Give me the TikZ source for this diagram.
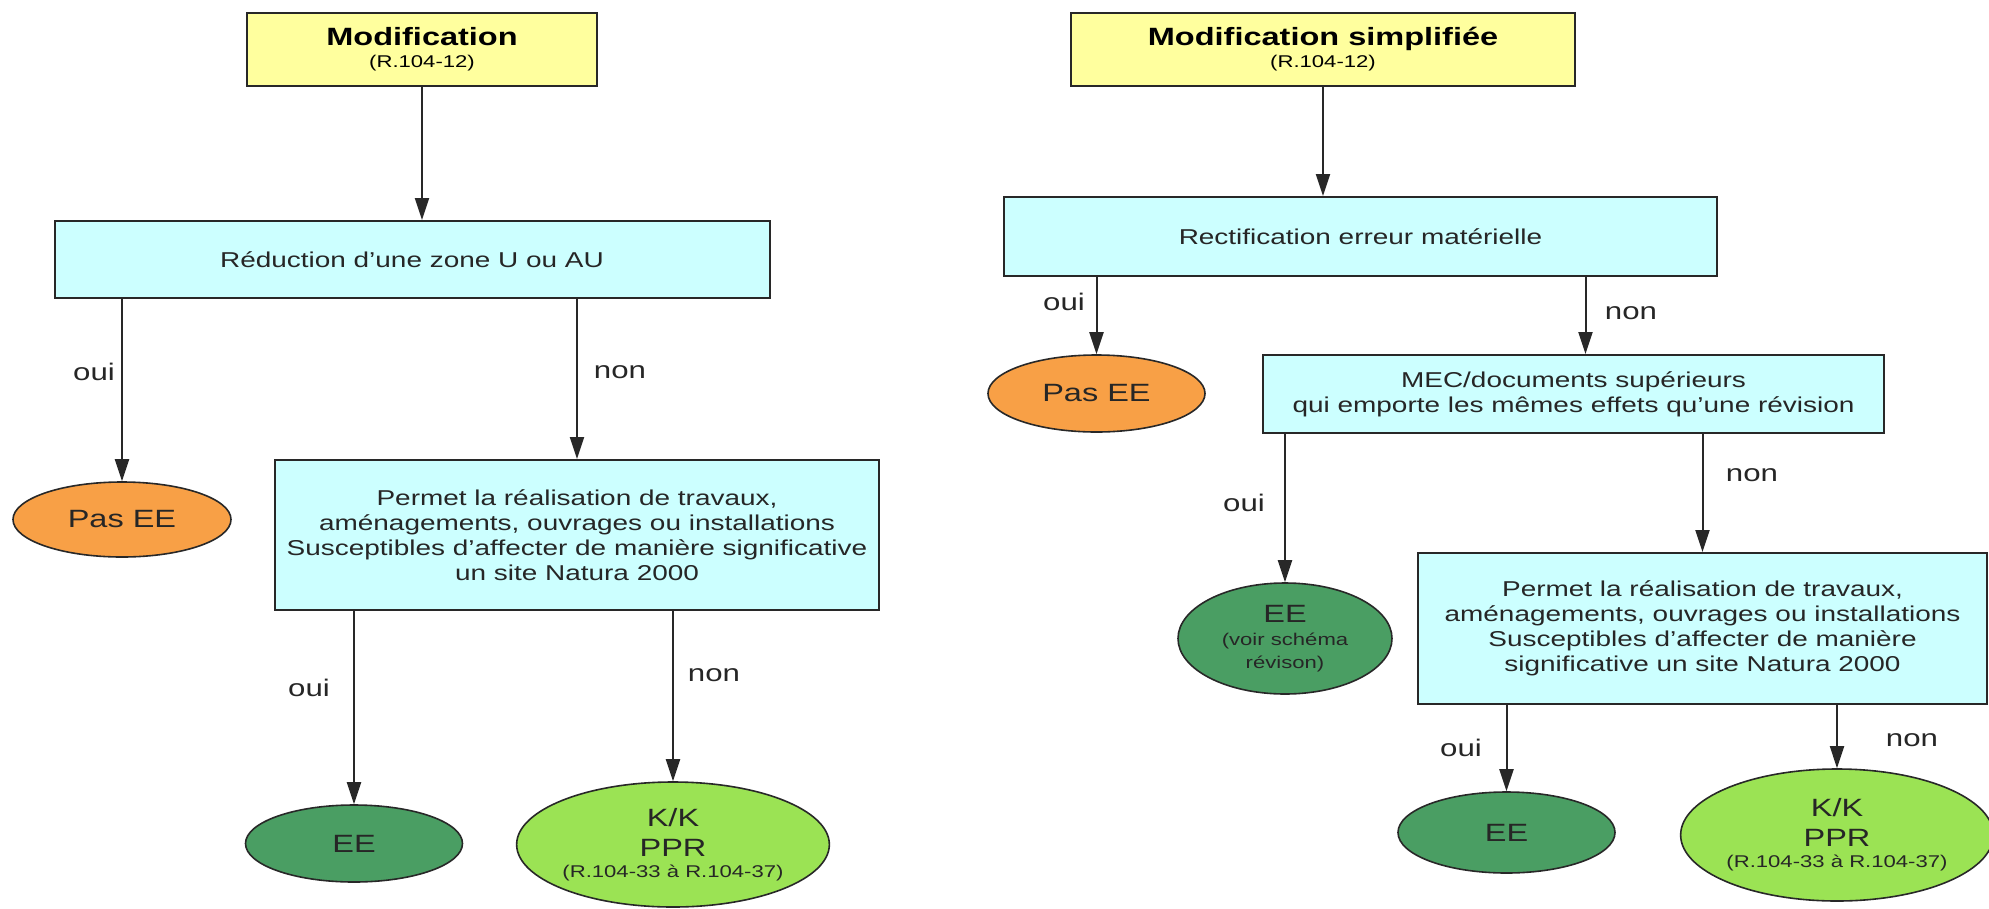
\documentclass[tikz,border=0pt]{standalone}
\usepackage{fontspec}
\setmainfont{Liberation Sans}[FakeStretch=1.3]
\usepackage{xcolor}
\usetikzlibrary{arrows.meta, shapes.geometric}

\definecolor{linegray}{RGB}{40,40,40}
\definecolor{titleyellow}{RGB}{255,255,158}
\definecolor{testcyan}{RGB}{204,255,255}
\definecolor{pasorange}{RGB}{248,160,70}
\definecolor{eegreen}{RGB}{74,158,99}
\definecolor{kkgreen}{RGB}{155,227,84}

\newcommand{\bigfont}{\fontsize{25}{30}\selectfont}
\newcommand{\smallfont}{\fontsize{17}{22}\selectfont}
\newcommand{\boxfont}{\fontsize{21.5}{25}\selectfont}

\tikzset{
  titlebox/.style={draw=linegray, line width=2pt, fill=titleyellow, align=center,
    inner sep=0pt, minimum height=73pt, font=\fontsize{25}{22}\selectfont},
  testbox/.style={draw=linegray, line width=2pt, fill=testcyan, align=center,
    inner sep=0pt, text=black!85, font=\boxfont},
  outcome/.style={ellipse, draw=linegray, line width=1.6pt, align=center,
    inner sep=0pt, text=black!85, font=\bigfont},
  answer/.style={font=\fontsize{24}{24}\selectfont, text=black!85},
  arr/.style={draw=linegray, line width=2pt, -{Triangle[length=22pt,width=14pt]}}
}

\begin{document}
\begin{tikzpicture}[x=1pt, y=-1pt]
  \useasboundingbox (0,0) rectangle (1989,908);
  \fill[white] (0,0) rectangle (1989,908);

  % Modification (left)
  \node[titlebox, minimum width=350pt] (mod) at (422,49) {\textbf{Modification}\\{\smallfont (R.104-12)}};
  \node[testbox, minimum width=715pt, minimum height=77pt] (zone) at (412,259.5) {Réduction d’une zone U ou AU};
  \node[outcome, fill=pasorange, minimum width=218pt, minimum height=75pt] (pasL) at (122,519.5) {Pas EE};
  \node[testbox, minimum width=604pt, minimum height=150pt] (travL) at (577,535)
    {Permet la réalisation de travaux,\\aménagements, ouvrages ou installations\\Susceptibles d’affecter de manière significative\\un site Natura 2000};
  \node[outcome, fill=eegreen, minimum width=217pt, minimum height=77pt] (eeL) at (354,843.5) {EE};
  \node[outcome, fill=kkgreen, minimum width=308pt, minimum height=125pt] (kkL) at (673,844.5)
    {K/K\\PPR\\[-9pt]{\smallfont (R.104-33 à R.104-37)}};

  \draw[arr] (mod) -- (zone.north -| mod);
  \draw[arr] (zone.south -| pasL) -- (pasL);
  \draw[arr] (zone.south -| travL) -- (travL);
  \draw[arr] (travL.south -| eeL) -- (eeL);
  \draw[arr] (travL.south -| kkL) -- (kkL);

  \node[answer] (ouiA) at (94,372) {oui};
  \node[answer] (nonA) at (620,372) {non};
  \node[answer] (ouiB) at (309,688) {oui};
  \node[answer] (nonB) at (714,675) {non};

  % Modification simplifiee (right)
  \node[titlebox, minimum width=504pt] (modS) at (1323,49) {\textbf{Modification simplifiée}\\{\smallfont (R.104-12)}};
  \node[testbox, minimum width=713pt, minimum height=79pt] (erreur) at (1360.5,236.5) {Rectification erreur matérielle};
  \node[outcome, fill=pasorange, minimum width=217pt, minimum height=77pt] (pasR) at (1096.5,393.5) {Pas EE};
  \node[testbox, minimum width=621pt, minimum height=78pt] (mec) at (1573.5,394)
    {MEC/documents supérieurs\\qui emporte les mêmes effets qu’une révision};
  \node[outcome, fill=eegreen, minimum width=214pt, minimum height=111pt, font=\fontsize{25}{23}\selectfont] (eeRev) at (1285,638.5)
    {EE\\{\smallfont (voir schéma}\\{\smallfont révison)}};
  \node[testbox, minimum width=569pt, minimum height=151pt] (travR) at (1702.5,628.5)
    {Permet la réalisation de travaux,\\aménagements, ouvrages ou installations\\Susceptibles d’affecter de manière\\significative un site Natura 2000};
  \node[outcome, fill=eegreen, minimum width=217pt, minimum height=81pt] (eeR) at (1506.5,832.5) {EE};
  \node[outcome, fill=kkgreen, minimum width=302pt, minimum height=132pt] (kkR) at (1837,835)
    {K/K\\PPR\\[-9pt]{\smallfont (R.104-33 à R.104-37)}};

  \coordinate (mecIn) at ([xshift=12pt]mec.north);
  \draw[arr] (modS) -- (erreur.north -| modS);
  \draw[arr] (erreur.south -| pasR) -- (pasR);
  \draw[arr] (erreur.south -| mecIn) -- (mecIn);
  \draw[arr] (mec.south -| eeRev) -- (eeRev);
  \draw[arr] (mec.south -| travR) -- (travR);
  \draw[arr] (travR.south -| eeR) -- (eeR);
  \draw[arr] (travR.south -| kkR) -- (kkR);

  \node[answer] (ouiC) at (1064,302) {oui};
  \node[answer] (nonC) at (1631,313) {non};
  \node[answer] (ouiD) at (1244,503) {oui};
  \node[answer] (nonD) at (1752,475) {non};
  \node[answer] (ouiE) at (1461,748) {oui};
  \node[answer] (nonE) at (1912,740) {non};
\end{tikzpicture}
\end{document}
